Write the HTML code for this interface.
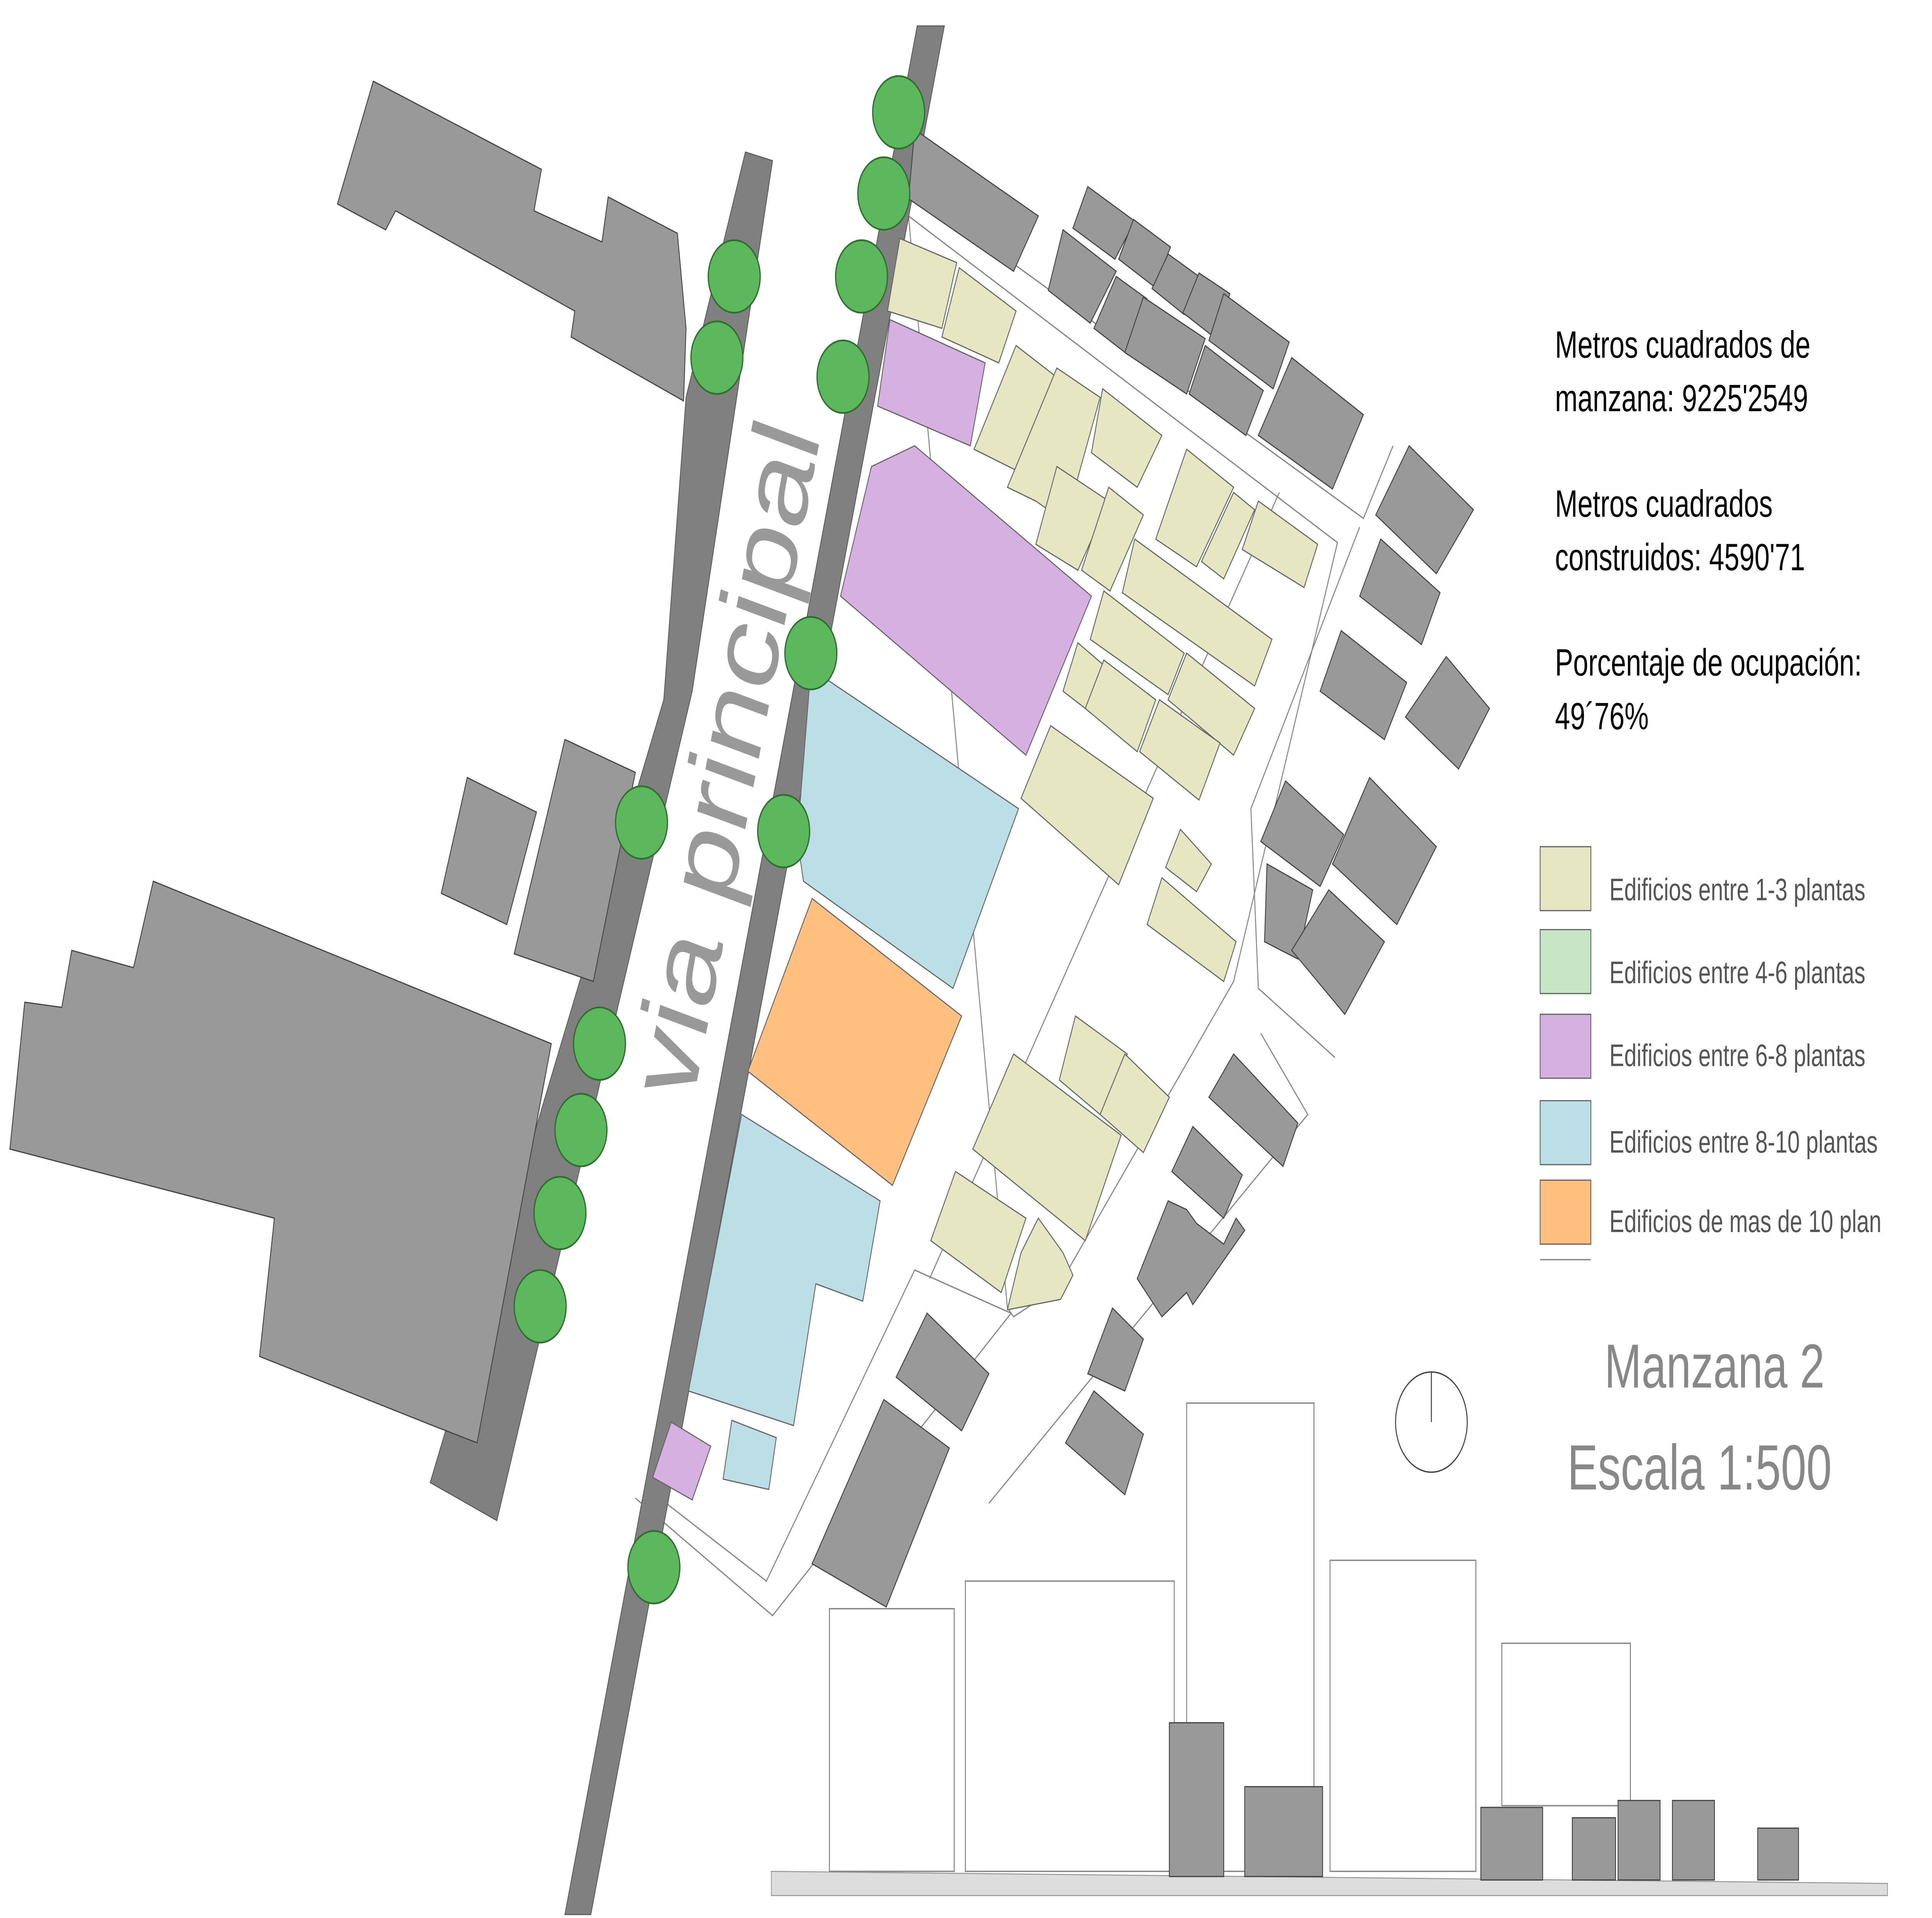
<!DOCTYPE html>
<html><head><meta charset="utf-8"><style>
html,body{margin:0;padding:0;background:#fff;overflow:hidden;}
svg{display:block;position:fixed;left:0;top:0;width:100vw;height:100vh;}
text{font-family:"Liberation Sans",sans-serif;}
</style></head><body>
<svg viewBox="0 0 1563 1110" preserveAspectRatio="none" xmlns="http://www.w3.org/2000/svg">
<rect width="1563" height="1110" fill="#fff"/>
<g fill="none" stroke="#888" stroke-width="0.8">
<polygon points="735,125 1082,314 998,568 856,745 820,762 815,757"/>
<polyline points="738,110 1103,300 1127,258"/>
<polyline points="1100,305 1012,468 1018,572 1080,612"/>
<polyline points="1020,598 1058,645 800,870"/>
<polyline points="514,867 625,935 818,760 740,735 620,915 530,865"/>
<polyline points="1035,285 752,740"/>
</g>
<polygon points="603,88 625,93 560,400 402,880 348,858 537,405 555,230" fill="#808080" stroke="#555" stroke-width="0.6"/>
<polygon points="742,15 764,15 478,1108 457,1108" fill="#808080" stroke="#555" stroke-width="0.6"/>
<g fill="#999" stroke="#444" stroke-width="0.7">
<polygon points="302,47 438,98 432,122 487,140 492,114 548,135 555,190 553,232 462,195 465,180 320,122 312,133 273,118"/>
<polygon points="378,450 434,470 410,535 357,517"/>
<polygon points="457,428 514,447 480,568 416,552"/>
<polygon points="124,510 446,604 386,835 350,825 210,785 222,705 8,665 20,580 50,583 58,550 108,560"/>
<polygon points="740,75 840,125 820,157 735,115"/>
<polygon points="880,108 918,128 902,150 868,132"/>
<polygon points="917,127 947,143 934,166 905,150"/>
<polygon points="945,147 970,160 958,182 932,167"/>
<polygon points="970,158 995,170 982,195 957,181"/>
<polygon points="860,133 903,157 882,187 848,168"/>
<polygon points="903,160 928,173 912,205 885,190"/>
<polygon points="925,172 975,196 960,228 910,204"/>
<polygon points="990,170 1043,198 1030,225 978,197"/>
<polygon points="975,200 1022,226 1008,252 962,228"/>
<polygon points="1045,207 1103,240 1078,283 1018,252"/>
<polygon points="1140,258 1192,295 1162,332 1113,298"/>
<polygon points="1117,312 1165,343 1150,373 1100,345"/>
<polygon points="1085,365 1138,395 1120,428 1068,400"/>
<polygon points="1170,380 1205,410 1180,445 1137,415"/>
<polygon points="1040,452 1087,483 1068,513 1020,487"/>
<polygon points="1108,450 1162,490 1130,535 1078,500"/>
<polygon points="1025,500 1062,515 1050,555 1023,545"/>
<polygon points="1075,515 1120,545 1088,587 1045,550"/>
<polygon points="998,610 1050,650 1038,675 978,635"/>
<polygon points="965,652 1005,680 990,705 948,678"/>
<polygon points="945,695 960,700 968,708 990,720 1000,705 1007,712 965,755 960,748 940,762 920,740"/>
<polygon points="900,757 925,775 910,805 880,795"/>
<polygon points="885,805 925,830 910,865 862,835"/>
<polygon points="750,760 800,795 778,828 725,797"/>
<polygon points="715,810 768,838 717,930 657,905"/>
</g>
<g stroke="#666" stroke-width="0.7" fill="#e6e6c3">
<polygon points="728,138 774,152 762,190 718,180"/>
<polygon points="776,155 822,180 808,210 762,195"/>
<polygon points="822,200 858,220 830,275 788,260"/>
<polygon points="855,213 890,230 862,302 838,290 815,282"/>
<polygon points="892,225 940,252 920,282 883,262"/>
<polygon points="855,270 897,290 872,330 838,315"/>
<polygon points="897,282 925,298 898,342 875,330"/>
<polygon points="960,260 998,282 968,328 935,312"/>
<polygon points="998,285 1015,295 990,335 972,325"/>
<polygon points="1018,290 1066,315 1055,340 1005,318"/>
<polygon points="918,312 1029,370 1015,397 908,343"/>
<polygon points="893,342 958,378 945,402 882,370"/>
<polygon points="872,372 893,385 878,410 860,400"/>
<polygon points="893,382 935,405 920,435 878,410"/>
<polygon points="960,378 1015,410 998,437 945,405"/>
<polygon points="938,405 987,430 970,463 922,435"/>
<polygon points="850,420 933,462 905,512 826,462"/>
<polygon points="955,480 980,500 968,516 943,502"/>
<polygon points="940,508 1000,545 990,568 928,535"/>
<polygon points="870,588 912,610 890,645 857,625"/>
<polygon points="910,610 946,635 925,667 890,645"/>
<polygon points="820,610 907,657 878,718 787,665"/>
<polygon points="773,678 830,705 810,748 753,718"/>
<polygon points="840,705 860,725 868,738 858,752 815,758 826,725"/>
</g>
<g stroke="#666" stroke-width="0.7">
<polygon fill="#d5b0e0" points="720,185 797,210 785,258 710,235"/>
<polygon fill="#d5b0e0" points="740,258 883,345 830,437 680,345 705,270"/>
<polygon fill="#d5b0e0" points="543,823 575,837 560,868 528,855"/>
<polygon fill="#bcdfe6" points="656,387 824,468 771,572 650,510 645,485"/>
<polygon fill="#bcdfe6" points="600,645 712,695 698,753 660,743 642,825 557,805"/>
<polygon fill="#bcdfe6" points="592,822 628,832 622,862 585,856"/>
<polygon fill="#ffbf80" points="657,520 778,588 722,686 605,620"/>
</g>
<g fill="#5cb85c" stroke="#2f6e2f" stroke-width="1">
<circle cx="727" cy="65" r="21"/><circle cx="715" cy="112" r="21"/>
<circle cx="697" cy="160" r="21"/><circle cx="682" cy="218" r="21"/>
<circle cx="594" cy="160" r="21"/><circle cx="580" cy="207" r="21"/>
<circle cx="656" cy="378" r="21"/><circle cx="519" cy="476" r="21"/>
<circle cx="634" cy="481" r="21"/><circle cx="485" cy="604" r="21"/>
<circle cx="470" cy="654" r="21"/><circle cx="453" cy="702" r="21"/>
<circle cx="437" cy="756" r="21"/><circle cx="529" cy="907" r="21"/>
</g>
<text x="0" y="0" font-size="76" fill="#999" transform="translate(560,640) rotate(-75)">via principal</text>
<g font-size="22" fill="#000">
<text x="1258" y="207">Metros cuadrados de</text>
<text x="1258" y="238">manzana: 9225'2549</text>
<text x="1258" y="299">Metros cuadrados</text>
<text x="1258" y="330">construidos: 4590'71</text>
<text x="1258" y="391">Porcentaje de ocupación:</text>
<text x="1258" y="422"> 49´76%</text>
</g>
<g stroke="#666" stroke-width="0.7">
<rect x="1246" y="490" width="41" height="37" fill="#e6e6c3"/>
<rect x="1246" y="538" width="41" height="37" fill="#c6e6c6"/>
<rect x="1246" y="587" width="41" height="37" fill="#d5b0e0"/>
<rect x="1246" y="637" width="41" height="37" fill="#bcdfe6"/>
<rect x="1246" y="683" width="41" height="37" fill="#ffbf80"/>
</g>
<line x1="1246" y1="729" x2="1287" y2="729" stroke="#888" stroke-width="0.8"/>
<g font-size="18" fill="#555">
<text x="1302" y="521">Edificios entre 1-3 plantas</text>
<text x="1302" y="569">Edificios entre 4-6 plantas</text>
<text x="1302" y="617">Edificios entre 6-8 plantas</text>
<text x="1302" y="667">Edificios entre 8-10 plantas</text>
<text x="1302" y="713">Edificios de mas de 10 plan</text>
</g>
<text x="1298" y="803" font-size="36" fill="#888">Manzana 2</text>
<text x="1268" y="862" font-size="37" fill="#888">Escala 1:500</text>
<circle cx="1158" cy="823" r="29" fill="none" stroke="#444" stroke-width="0.8"/>
<line x1="1158" y1="794" x2="1158" y2="823" stroke="#444" stroke-width="0.8"/>
<polygon points="624,1083 1527,1090 1527,1097 624,1097" fill="#ddd" stroke="#999" stroke-width="0.6"/>
<g fill="none" stroke="#888" stroke-width="0.8">
<rect x="671" y="931" width="101" height="152"/>
<rect x="781" y="915" width="169" height="168"/>
<rect x="960" y="812" width="103" height="271"/>
<rect x="1076" y="903" width="118" height="180"/>
<rect x="1215" y="951" width="104" height="94"/>
</g>
<g fill="#999" stroke="#444" stroke-width="0.7">
<rect x="946" y="997" width="44" height="89"/>
<rect x="1007" y="1034" width="63" height="52"/>
<rect x="1198" y="1046" width="50" height="42"/>
<rect x="1272" y="1052" width="35" height="36"/>
<rect x="1309" y="1042" width="34" height="46"/>
<rect x="1353" y="1042" width="34" height="46"/>
<rect x="1422" y="1058" width="33" height="30"/>
</g>
</svg>
</body></html>
